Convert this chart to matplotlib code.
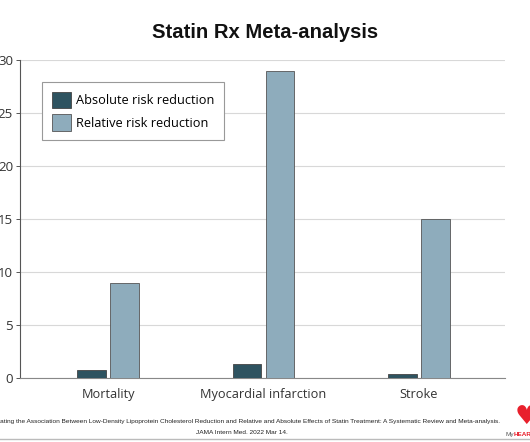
import matplotlib
matplotlib.use("Agg")
import matplotlib.pyplot as plt
import numpy as np
from matplotlib.patches import Patch
from matplotlib.lines import Line2D

categories = ["Mortality", "Myocardial infarction", "Stroke"]
absolute_rr = [0.8, 1.3, 0.4]
relative_rr = [9, 29, 15]
series_names = ["Absolute risk reduction", "Relative risk reduction"]
yticks = [0, 5, 10, 15, 20, 25, 30]

dark = "#2e5360"
light = "#8eacbc"

fig = plt.figure(figsize=(5.30, 4.42), dpi=100)
ax = fig.add_axes([20/530, 1-378/442, 485/530, (378-60)/442])

x = np.arange(len(categories))
w = 0.183
off = 0.107
ax.bar(x - off, absolute_rr, w, color=dark, edgecolor="#444444", linewidth=0.6, zorder=3)
ax.bar(x + off, relative_rr, w, color=light, edgecolor="#555555", linewidth=0.6, zorder=3)

ax.set_xlim(-0.566, 2.553)
ax.set_ylim(0, 30)
ax.set_yticks(yticks)
ax.yaxis.grid(True, color="#d8d8d8", linewidth=0.8, zorder=0)
ax.set_axisbelow(True)
for s in ["top", "right"]:
    ax.spines[s].set_visible(False)
ax.spines["left"].set_color("#555555")
ax.spines["bottom"].set_color("#888888")
ax.spines["left"].set_linewidth(0.8)
ax.spines["bottom"].set_linewidth(0.8)
ax.tick_params(axis="y", length=3, width=0.7, color="#555555", labelsize=9.5, pad=2, labelcolor="#333333")
ax.tick_params(axis="x", length=0, labelsize=9.2, pad=7, labelcolor="#333333")
ax.set_xticks(x)
ax.set_xticklabels(categories, family="Open Sans")
for lab in ax.get_yticklabels():
    lab.set_family("Open Sans")

handles = [Patch(facecolor=dark, edgecolor="#444444", linewidth=0.6),
           Patch(facecolor=light, edgecolor="#555555", linewidth=0.6)]
leg = ax.legend(handles, series_names, loc="upper left", bbox_to_anchor=(22/485, (378-82)/318),
                frameon=True, fancybox=False, edgecolor="#999999", framealpha=1,
                prop={"family": "Open Sans", "size": 9.2}, handlelength=1.5, handleheight=1.6,
                borderpad=0.75, labelspacing=0.5, handletextpad=0.45, borderaxespad=0)
leg.get_frame().set_linewidth(0.8)

fig.text(265/530, 1-32/442, "Statin Rx Meta-analysis", ha="center", va="center",
         family="Liberation Sans", weight="bold", size=14.6, color="#111111")

fig.text(242/530, 1-421/442,
         "Evaluating the Association Between Low-Density Lipoprotein Cholesterol Reduction and Relative and Absolute Effects of Statin Treatment: A Systematic Review and Meta-analysis.",
         ha="center", va="center", family="Liberation Sans", size=4.65, color="#222222")
fig.text(242/530, 1-432/442, "JAMA Intern Med. 2022 Mar 14.",
         ha="center", va="center", family="Liberation Sans", size=4.65, color="#222222")

fig.add_artist(Line2D([0, 1], [1-438.5/442, 1-438.5/442], color="#bbbbbb", linewidth=1.0))
fig.text(515/530, 1-429.5/442, "\u2665", ha="left", va="bottom", family="DejaVu Sans", size=19, color="#e8202c")
fig.text(505/530, 1-434.5/442, "My", ha="left", va="center", family="Liberation Sans", size=4.6, color="#555555")
fig.text(514/530, 1-434.5/442, "HEART", ha="left", va="center", family="Liberation Sans", size=4.6,
         weight="bold", color="#e8202c")

fig.savefig("out.png", dpi=100)
